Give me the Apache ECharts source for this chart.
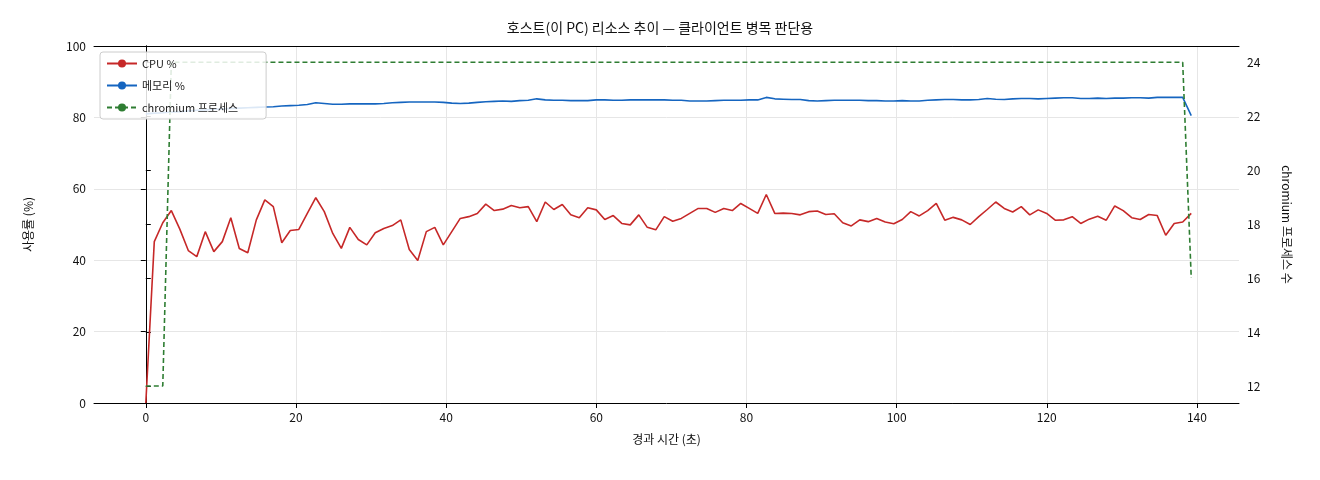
<!DOCTYPE html>
<html><head><meta charset="utf-8">
<script src="https://cdn.jsdelivr.net/npm/echarts@6/dist/echarts.min.js"></script>
<style>html,body{margin:0;background:#fff}#c{width:1320px;height:480px}</style>
</head><body><div id="c"></div>
<script>
const sampleInterval = 1.132;
const cpuPct = [0,45.2,50.5,53.9,48.7,42.7,41,48,42.4,45.2,51.9,43.3,42.1,51.3,56.9,55,44.9,48.3,48.6,53.1,
57.5,53.6,47.5,43.3,49.2,45.8,44.3,47.7,48.9,49.7,51.3,43,39.9,48,49.2,44.3,48,51.7,52.2,53.1,
55.7,53.9,54.3,55.3,54.7,55,50.8,56.3,54.2,55.6,52.7,51.9,54.7,54.1,51.4,52.5,50.3,49.9,52.7,49.2,48.5,
52.2,50.9,51.7,53.1,54.5,54.5,53.4,54.5,53.9,55.9,54.5,53.1,58.4,53.1,53.2,53.1,52.7,53.6,53.8,52.8,
53,50.5,49.6,51.3,50.8,51.7,50.7,50.2,51.4,53.6,52.4,53.9,55.9,51.2,52,51.3,50,52.2,54.2,56.3,
54.5,53.5,55,52.7,54.1,53.1,51.2,51.3,52.2,50.3,51.5,52.3,51.2,55.2,53.9,51.9,51.4,52.8,52.5,47,50.3,50.7,53.1];
const memPct = [81.0,81.2,81.3,81.5,81.6,81.8,82.0,82.1,82.3,82.4,82.5,82.6,82.7,82.8,82.9,83.0,83.2,83.3,83.4,83.6,
84.1,83.9,83.7,83.7,83.8,83.8,83.8,83.8,83.9,84.1,84.2,84.3,84.3,84.3,84.3,84.2,84.0,83.9,84.0,84.2,84.4,
84.5,84.6,84.5,84.7,84.8,85.2,84.9,84.8,84.8,84.7,84.7,84.7,84.9,84.9,84.8,84.8,84.9,84.9,84.9,84.9,
84.9,84.8,84.8,84.6,84.6,84.6,84.7,84.8,84.8,84.8,84.9,84.9,85.6,85.2,85.1,85.0,85.0,84.7,84.6,84.7,
84.8,84.8,84.8,84.8,84.7,84.7,84.6,84.6,84.7,84.6,84.6,84.8,84.9,85.0,85.0,84.9,84.9,85.0,85.3,85.1,
85.0,85.2,85.3,85.3,85.2,85.3,85.4,85.5,85.5,85.3,85.3,85.4,85.3,85.4,85.4,85.5,85.5,85.4,85.6,85.6,
85.6,85.6,80.5];
const procCount = [12,12,12,
24,24,24,24,24,24,24,24,24,24,24,24,24,24,24,24,24,24,24,24,
24,24,24,24,24,24,24,24,24,24,24,24,24,24,24,24,24,24,24,24,
24,24,24,24,24,24,24,24,24,24,24,24,24,24,24,24,24,24,24,24,
24,24,24,24,24,24,24,24,24,24,24,24,24,24,24,24,24,24,24,24,
24,24,24,24,24,24,24,24,24,24,24,24,24,24,24,24,24,24,24,24,
24,24,24,24,24,24,24,24,24,24,24,24,24,24,24,24,24,24,24,24,16];
const xTicks = [0,20,40,60,80,100,120,140];
const yLeftTicks = [0,20,40,60,80,100];
const yRightTicks = [12,14,16,18,20,22,24];

const elapsed = cpuPct.map((_, i) => +(i * sampleInterval).toFixed(2));
const pair = arr => arr.map((v, i) => [elapsed[i], v]);
const font = "'Noto Sans CJK KR','DejaVu Sans',sans-serif";
const chart = echarts.init(document.getElementById('c'));
chart.setOption({
  animation: false,
  textStyle: {fontFamily: font},
  title: {text: '호스트(이 PC) 리소스 추이 — 클라이언트 병목 판단용', left: 'center', top: 16,
    textStyle: {fontSize: 14, fontWeight: 'normal', color: '#111', fontFamily: font}},
  grid: {left: 94, right: 81, top: 46, bottom: 77},
  legend: {left: 100, top: 52, orient: 'vertical', itemWidth: 30, itemHeight: 10, itemGap: 11,
    backgroundColor: 'rgba(255,255,255,0.85)', borderColor: '#ccc', borderWidth: 1, borderRadius: 3,
    padding: [6, 28, 6, 6],
    textStyle: {fontSize: 11, color: '#222'},
    data: ['CPU %', '메모리 %', 'chromium 프로세스']},
  xAxis: [{type: 'value', min: -6.9, max: 145.6,
    name: '경과 시간 (초)', nameLocation: 'middle', nameGap: 30, nameTextStyle: {fontSize: 12, color: '#111'},
    axisLine: {lineStyle: {color: '#000'}}, axisTick: {customValues: xTicks, lineStyle: {color: '#000'}},
    axisLabel: {customValues: xTicks, color: '#111', fontSize: 12},
    splitLine: {show: true, lineStyle: {color: '#e6e6e6'}}},
    {type: 'value', position: 'top', min: -6.9, max: 145.6,
      axisLine: {show: true, lineStyle: {color: '#000'}}, axisTick: {show: false},
      axisLabel: {show: false}, splitLine: {show: false}}],
  yAxis: [
    {type: 'value', min: 0, max: 100, interval: 20,
      name: '사용률 (%)', nameLocation: 'middle', nameGap: 60, nameTextStyle: {fontSize: 12, color: '#111'},
      axisLine: {show: true, lineStyle: {color: '#000'}}, axisTick: {show: true, lineStyle: {color: '#000'}},
      axisLabel: {color: '#111', fontSize: 12}, splitLine: {lineStyle: {color: '#e6e6e6'}}},
    {type: 'value', min: 11.37, max: 24.6, position: 'right',
      name: 'chromium 프로세스 수', nameLocation: 'middle', nameGap: 42, nameRotate: -90,
      nameTextStyle: {fontSize: 12, color: '#111'},
      axisLine: {show: true, lineStyle: {color: '#000'}},
      axisTick: {show: true, customValues: yRightTicks, lineStyle: {color: '#000'}},
      axisLabel: {customValues: yRightTicks, color: '#111', fontSize: 12}, splitLine: {show: false}}
  ],
  series: [
    {name: 'CPU %', type: 'line', data: pair(cpuPct), symbol: 'none', color: '#c62828', lineStyle: {width: 1.6}},
    {name: '메모리 %', type: 'line', data: pair(memPct), symbol: 'none', color: '#1565c0', lineStyle: {width: 1.6}},
    {name: 'chromium 프로세스', type: 'line', yAxisIndex: 1, data: pair(procCount), symbol: 'none', color: '#2e7d32',
      lineStyle: {width: 1.6, type: [5, 3]}}
  ]
});
</script></body></html>
